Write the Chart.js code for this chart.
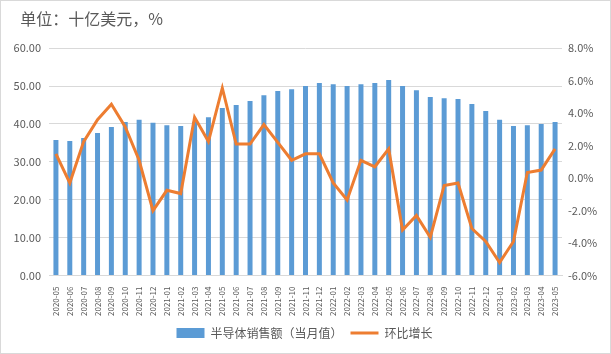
<!DOCTYPE html>
<html>
<head>
<meta charset="utf-8">
<script src="https://cdn.jsdelivr.net/npm/chart.js@4"></script>
<style>
  html, body { margin: 0; padding: 0; background: #fff; }
  #wrap { width: 609px; height: 352px; border: 1px solid #d9d9d9; }
</style>
</head>
<body>
<div id="wrap"><canvas id="canvas" width="609" height="352"></canvas></div>
<script>
// 月份
const meses = [
  '2020-05', '2020-06', '2020-07', '2020-08', '2020-09', '2020-10', '2020-11', '2020-12',
  '2021-01', '2021-02', '2021-03', '2021-04', '2021-05', '2021-06', '2021-07', '2021-08',
  '2021-09', '2021-10', '2021-11', '2021-12', '2022-01', '2022-02', '2022-03', '2022-04',
  '2022-05', '2022-06', '2022-07', '2022-08', '2022-09', '2022-10', '2022-11', '2022-12',
  '2023-01', '2023-02', '2023-03', '2023-04', '2023-05'
];

// 半导体销售额（当月值），十亿美元
const ventas = [
  35.8, 35.5, 36.3, 37.6, 39.2, 40.5, 41.1, 40.3, 39.7, 39.5, 40.6, 41.8,
  44.2, 45.0, 46.1, 47.6, 48.7, 49.2, 50.0, 50.8, 50.5, 50.0, 50.5, 50.8,
  51.6, 50.0, 48.9, 47.1, 46.8, 46.6, 45.3, 43.4, 41.1, 39.5, 39.7, 40.0, 40.5
];

// 环比增长，%
const crecimiento = [
  1.5, -0.3, 2.25, 3.6, 4.55, 3.15, 1.1, -2.0, -0.75, -0.95, 3.75, 2.25,
  5.55, 2.1, 2.1, 3.3, 2.2, 1.1, 1.5, 1.5, -0.3, -1.35, 1.1, 0.7,
  1.8, -3.2, -2.3, -3.65, -0.45, -0.3, -3.1, -3.9, -5.2, -3.9, 0.35, 0.5, 1.8
];

const ticksIzq = [0, 10, 20, 30, 40, 50, 60];
const ticksDer = [-6, -4, -2, 0, 2, 4, 6, 8];

const gris = '#595959';
const fuente = "'Noto Sans CJK SC', 'DejaVu Sans', sans-serif";

const grafico = document.getElementById('canvas');

new Chart(grafico, {
  data: {
    labels: meses,
    datasets: [
      {
        type: 'line',
        label: '环比增长',
        data: crecimiento,
        yAxisID: 'yDer',
        borderColor: '#ED7D31',
        backgroundColor: '#ED7D31',
        borderWidth: 3,
        pointRadius: 0,
        tension: 0,
        pointStyle: 'line',
        order: 1
      },
      {
        type: 'bar',
        label: '半导体销售额（当月值）',
        data: ventas,
        yAxisID: 'yIzq',
        backgroundColor: '#5B9BD5',
        borderWidth: 0,
        barPercentage: 0.72,
        categoryPercentage: 0.5,
        pointStyle: 'rect',
        order: 2
      }
    ]
  },
  options: {
    responsive: false,
    animation: false,
    layout: { padding: { left: 8, right: 10, top: 0, bottom: 4 } },
    plugins: {
      title: {
        display: true,
        // espacio inicial para correr el título a la derecha
        text: '\u2002\u2009单位：十亿美元，%',
        align: 'start',
        color: gris,
        font: { family: fuente, size: 16, weight: 'normal' },
        padding: { top: 8, bottom: 20 }
      },
      legend: {
        position: 'bottom',
        reverse: true,
        labels: {
          color: gris,
          font: { family: fuente, size: 12 },
          usePointStyle: true,
          pointStyleWidth: 28,
          boxHeight: 10,
          padding: 8
        }
      },
      tooltip: { enabled: false }
    },
    scales: {
      x: {
        grid: { display: false, drawTicks: true },
        border: { color: '#d9d9d9' },
        ticks: {
          color: gris,
          font: { family: fuente, size: 8 },
          minRotation: 90,
          maxRotation: 90,
          autoSkip: false
        }
      },
      yIzq: {
        position: 'left',
        min: 0,
        max: 60,
        afterBuildTicks: (axis) => { axis.ticks = ticksIzq.map(v => ({ value: v })); },
        afterFit: (axis) => { axis.width = 40; },
        grid: { color: '#d9d9d9', drawTicks: false },
        border: { display: false },
        ticks: {
          color: gris,
          font: { family: fuente, size: 11 },
          padding: 8,
          callback: (v) => v.toFixed(2)
        }
      },
      yDer: {
        position: 'right',
        min: -6,
        max: 8,
        afterBuildTicks: (axis) => { axis.ticks = ticksDer.map(v => ({ value: v })); },
        afterFit: (axis) => { axis.width = 38; },
        grid: { display: false, drawTicks: false },
        border: { display: false },
        ticks: {
          color: gris,
          font: { family: fuente, size: 11 },
          padding: 6,
          callback: (v) => v.toFixed(1) + '%'
        }
      }
    }
  }
});
</script>
</body>
</html>
